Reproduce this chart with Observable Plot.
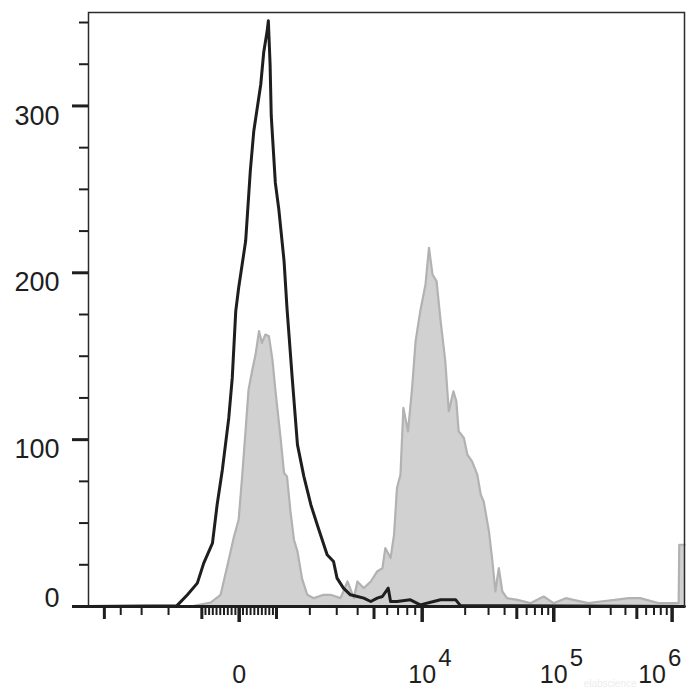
<!DOCTYPE html>
<html><head><meta charset="utf-8">
<script src="https://cdn.jsdelivr.net/npm/d3@7"></script>
<script src="https://cdn.jsdelivr.net/npm/@observablehq/plot@0.6"></script>
<style>body{margin:0;background:#fff}#chart{width:700px;height:700px}</style>
</head><body><div id="chart"></div>
<script>
// Histogram bins: display channel (0–1024 on the biexponential axis) and event count
const blackChannel = [0,152,170,187,198,213,221,230,241,247,253,258,270,278,284,296,301,307,309,312,314,321,327,336,341,350,359,370,382,393,410,421,427,438,450,462,473,485,496,505,515,519,530,553,570,593,605,631,639,1024];
const blackCount   = [0,0.5,7,14,26,38,61,82,113,137,177,191,219,261,285,313,332,345,351,325,294,254,238,207,179,137,97,78,61,49,31,27,17,11,7,6,5,3,5,6,11,3,3,4,1,3,4,4,0.5,0];
const grayChannel  = [0,175,210,227,238,250,258,264,270,275,281,287,293,298,304,310,316,321,330,336,341,347,353,359,367,376,387,404,416,433,445,456,462,473,485,496,505,510,519,525,530,536,541,549,556,562,570,579,585,591,598,605,613,619,627,632,636,645,651,659,668,674,679,688,694,699,705,711,719,737,759,782,799,820,833,859,880,905,928,948,979,1003,1014,1015,1024];
const grayCount    = [0,0,2.4,7,23.5,42,52,78,106,130,141,151,165,158,163,162,148,130,101,80,78,57,40,33,16.5,7,5,7,7,5,15,5,15,11,15,21,23,35,29,43,71,79,119,105,131,159,177,193,215,199,195,171,147,117,129,123,105,101,91,87,79,67,63,45,27,9,23,9,5,4,2,6,2,5,4,2,3,4,5,5,2,2,2,37,37];

// Axis ticks (fluorescence intensity) and labels
const yMajorTicks = [0, 100, 200, 300];
const yMinorTicks = [25, 50, 75, 125, 150, 175, 225, 250, 275, 325, 350];
const xDecadeTicks = [0, 1e4, 1e5, 1e6];
const xMidTicks = [-5000, -1000, 1000, 5000, 5e4, 5e5];
const xMinorTicks = [-4000, -3000, -2000, -900, -800, -700, -600, -500, -400, -300, -200, -100,
  100, 200, 300, 400, 500, 600, 700, 800, 900, 2000, 3000, 4000, 6000, 7000, 8000, 9000,
  2e4, 3e4, 4e4, 6e4, 7e4, 8e4, 9e4, 2e5, 3e5, 4e5, 6e5, 7e5, 8e5, 9e5];
const xLabelValues = [0, 1e4, 1e5, 1e6];
const xLabelBase = ["0", "10", "10", "10"];
const xLabelExp = ["", "4", "5", "6"];
const watermark = ["elabscience"];

// Biexponential (logicle-like) display transform: intensity -> channel
const BIEX = {A: 190, p: 6, zeroChannel: 258.9, channelsPerDecade: 200};
function biex(v) {
  const {A, p, zeroChannel, channelsPerDecade} = BIEX;
  const target = Math.abs(v) / A;
  const g = u => Math.pow(10, u) - p * p * Math.pow(10, -u / p) + p * p - 1;
  let lo = 0, hi = 10;
  for (let i = 0; i < 80; i++) { const m = (lo + hi) / 2; if (g(m) < target) lo = m; else hi = m; }
  return zeroChannel + Math.sign(v) * channelsPerDecade * (lo + hi) / 2;
}

const black = blackChannel.map((c, i) => ({c, n: blackCount[i]}));
const gray = grayChannel.map((c, i) => ({c, n: grayCount[i]}));
const xLabels = xLabelValues.map((v, i) => ({v, base: xLabelBase[i], exp: xLabelExp[i]}));

const font = "Liberation Sans, Arial, Helvetica, sans-serif";
const ink = "#1e1e1e";

const chart = Plot.plot({
  width: 700, height: 700,
  marginLeft: 88, marginRight: 16, marginTop: 12, marginBottom: 94,
  style: {fontFamily: font, background: "#fff"},
  x: {domain: [0, 1024]},
  y: {domain: [0, 356]},
  marks: [
    Plot.text(watermark, {frameAnchor: "bottom-right", dx: -48, dy: 80, text: d => d, fill: "#ededed", fontSize: 10, textAnchor: "end"}),
    Plot.areaY(gray, {x: "c", y: "n", fill: "#d1d1d1"}),
    Plot.line(gray, {x: "c", y: "n", stroke: "#b2b2b2", strokeWidth: 2.2}),
    Plot.line(black, {x: "c", y: "n", stroke: ink, strokeWidth: 3}),
    Plot.frame({stroke: "#2b2b2b", strokeWidth: 1.5}),
    Plot.ruleY([0], {stroke: ink, strokeWidth: 3}),
    Plot.axisY(yMajorTicks, {tickSize: 16, strokeWidth: 3, stroke: ink, tickFormat: () => "", label: null}),
    Plot.axisY(yMinorTicks, {tickSize: 9, strokeWidth: 2, stroke: ink, tickFormat: () => "", label: null}),
    Plot.axisX(xDecadeTicks.map(biex), {tickSize: 16, strokeWidth: 3.5, stroke: ink, tickFormat: () => "", label: null}),
    Plot.axisX(xMidTicks.map(biex), {tickSize: 13, strokeWidth: 3, stroke: ink, tickFormat: () => "", label: null}),
    Plot.axisX(xMinorTicks.map(biex), {tickSize: 9, strokeWidth: 2, stroke: ink, tickFormat: () => "", label: null}),
    Plot.text(yMajorTicks.filter(d => d > 0), {y: d => d, frameAnchor: "left", text: d => String(d), textAnchor: "end", dx: -29, dy: 10, fontSize: 27, fill: ink}),
    Plot.text(yMajorTicks.filter(d => d === 0), {y: d => d, frameAnchor: "left", text: d => String(d), textAnchor: "end", dx: -29, dy: -8, fontSize: 27, fill: ink}),
    Plot.text(xLabels.filter(d => d.v < 1e6), {x: d => biex(d.v), frameAnchor: "bottom", text: "base", dy: 76, fontSize: 25, fill: ink}),
    Plot.text(xLabels.filter(d => d.v < 1e6 && d.exp), {x: d => biex(d.v), frameAnchor: "bottom", text: "exp", textAnchor: "start", dx: 16, dy: 59, fontSize: 24, fill: ink}),
    Plot.text(xLabels.filter(d => d.v === 1e6), {x: d => biex(d.v), frameAnchor: "bottom", text: "base", dx: -20, dy: 76, fontSize: 25, fill: ink}),
    Plot.text(xLabels.filter(d => d.v === 1e6), {x: d => biex(d.v), frameAnchor: "bottom", text: "exp", textAnchor: "start", dx: -4, dy: 59, fontSize: 24, fill: ink})
  ]
});
document.getElementById("chart").appendChild(chart);
</script>
</body></html>
